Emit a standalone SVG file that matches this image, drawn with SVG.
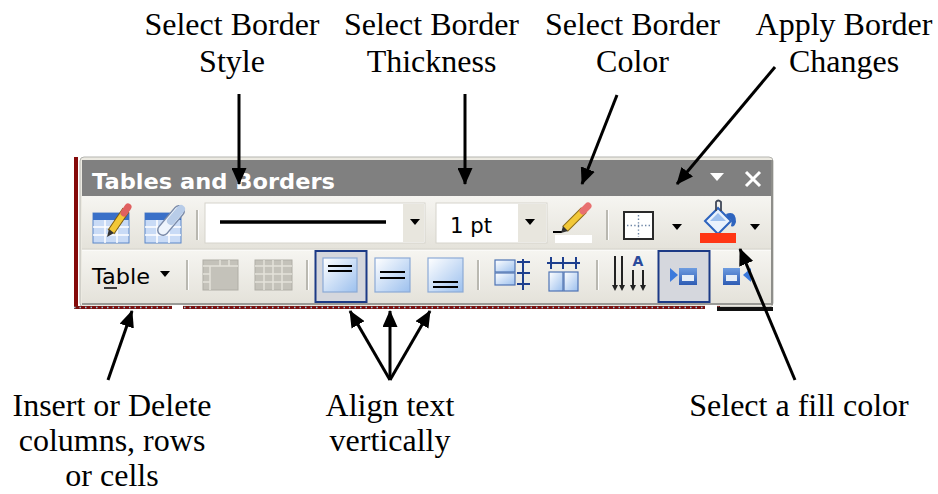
<svg xmlns="http://www.w3.org/2000/svg" width="938" height="494" viewBox="0 0 938 494">
<defs>
<style>
.lbl{font-family:"Liberation Serif","Times New Roman",serif;font-size:32px;fill:#000;text-anchor:middle}
.ui{font-family:"DejaVu Sans","Liberation Sans",sans-serif;fill:#000}
.con{stroke:#000;stroke-width:3;fill:none;marker-end:url(#ah)}
.sep{stroke:#A9A79F;stroke-width:1.5}
.sepw{stroke:#FFFFFF;stroke-width:1}
.drop{fill:#000}
.tick{stroke:#1E3F8E;stroke-width:2}
</style>
<marker id="ah" markerWidth="17" markerHeight="15" refX="16" refY="7.5" orient="auto" markerUnits="userSpaceOnUse">
<path d="M0,0 L17,7.5 L0,15 Z" fill="#000"/>
</marker>
<linearGradient id="row" x1="0" y1="0" x2="0" y2="1">
<stop offset="0" stop-color="#F6F5F1"/>
<stop offset="1" stop-color="#E4E2DA"/>
</linearGradient>
<linearGradient id="ico" x1="0" y1="0" x2="1" y2="1">
<stop offset="0" stop-color="#FFFFFF"/>
<stop offset="1" stop-color="#9CC0EE"/>
</linearGradient>
<linearGradient id="win" x1="0" y1="0" x2="0" y2="1">
<stop offset="0" stop-color="#6E9CE0"/>
<stop offset="1" stop-color="#2E5CB4"/>
</linearGradient>
</defs>

<!-- Toolbar -->
<g id="toolbar">
<rect x="74" y="157" width="4" height="152" fill="#850A0A"/>
<rect x="80" y="157" width="693" height="150" rx="4" fill="#ECEAE2" stroke="#B5B5B0" stroke-width="1"/>
<rect x="82" y="160" width="689" height="36" fill="#808080"/>
<rect x="82" y="196" width="689" height="54" fill="url(#row)"/>
<rect x="82" y="250" width="689" height="53" fill="url(#row)"/>
<line x1="82" y1="250" x2="771" y2="250" stroke="#FFFFFF" stroke-width="1"/>
<line x1="82" y1="249" x2="771" y2="249" stroke="#D6D4CC" stroke-width="1"/>
<line x1="82" y1="304" x2="772" y2="304" stroke="#9A9A96" stroke-width="2"/>
<line x1="772" y1="160" x2="772" y2="305" stroke="#8E8E8A" stroke-width="2"/>
<!-- bottom dotted line -->
<rect x="74" y="306" width="646" height="3" fill="#7A1212"/>
<line x1="74" y1="307.5" x2="720" y2="307.5" stroke="#9ED4E2" stroke-width="1.5" stroke-dasharray="1.5 4"/>
<rect x="172" y="305" width="11" height="5" fill="#FFFFFF"/>
<rect x="705" y="305" width="12" height="5" fill="#FFFFFF"/>
<rect x="717" y="307" width="56" height="4" fill="#111111"/>

<!-- title bar -->
<text x="92" y="189" class="ui" font-size="22" font-weight="bold" style="fill:#FFFFFF" textLength="243" lengthAdjust="spacingAndGlyphs">Tables and Borders</text>
<polygon points="710,173 724,173 717,181" fill="#FFFFFF"/>
<path d="M746,172 L760,186 M760,172 L746,186" stroke="#FFFFFF" stroke-width="3"/>

<!-- Row 1 -->
<g id="draw-table">
<rect x="93" y="213" width="36" height="30" fill="#C9DBF6" stroke="#5A86C8" stroke-width="1"/>
<rect x="93" y="213" width="36" height="7" fill="#3A70C8"/>
<path d="M93,227 H129 M93,235 H129 M105,220 V243 M117,220 V243" stroke="#FFFFFF" stroke-width="1.5"/>
<path d="M111,232 L126,210" stroke="#7A5A10" stroke-width="8" stroke-linecap="butt"/>
<path d="M111,232 L126,210" stroke="#F2C838" stroke-width="6"/>
<path d="M124,213 L128,207" stroke="#E06060" stroke-width="7" stroke-linecap="round"/>
<polygon points="107,237 109,229 114,233" fill="#333"/>
</g>
<g id="eraser-table">
<rect x="145" y="213" width="36" height="30" fill="#C9DBF6" stroke="#5A86C8" stroke-width="1"/>
<rect x="145" y="213" width="36" height="7" fill="#3A70C8"/>
<path d="M145,227 H181 M145,235 H181 M157,220 V243 M169,220 V243" stroke="#FFFFFF" stroke-width="1.5"/>
<path d="M163,230 L179,211" stroke="#7A8AA8" stroke-width="12" stroke-linecap="round"/>
<path d="M163,230 L179,211" stroke="#EEF4FC" stroke-width="9" stroke-linecap="round"/>
<path d="M171,221 L181,209" stroke="#B8CCE8" stroke-width="8" stroke-linecap="round"/>
</g>
<line x1="197" y1="210" x2="197" y2="240" class="sep"/>
<line x1="198.5" y1="210" x2="198.5" y2="240" class="sepw"/>

<g id="line-style">
<rect x="205" y="203" width="220" height="40" fill="#FFFFFF" stroke="#D6D4CC"/>
<line x1="220" y1="222" x2="386" y2="222" stroke="#000" stroke-width="3.5"/>
<rect x="403" y="204" width="21" height="38" fill="#E8E6DE"/>
<polygon points="410,219 420,219 415,225" class="drop"/>
</g>
<g id="line-weight">
<rect x="436" y="203" width="111" height="40" fill="#FFFFFF" stroke="#D6D4CC"/>
<text x="450" y="233" class="ui" font-size="21" textLength="42" lengthAdjust="spacingAndGlyphs">1 pt</text>
<rect x="518" y="204" width="28" height="38" fill="#E8E6DE"/>
<polygon points="525,219 535,219 530,225" class="drop"/>
</g>
<g id="border-color">
<line x1="553" y1="232" x2="562" y2="232" stroke="#000" stroke-width="2"/>
<path d="M565,229 L584,210" stroke="#8A6A18" stroke-width="8"/>
<path d="M565,229 L584,210" stroke="#F2C838" stroke-width="6"/>
<path d="M583,211 L588,206" stroke="#E87070" stroke-width="7" stroke-linecap="round"/>
<polygon points="561,233 563,226 568,231" fill="#333"/>
<rect x="555" y="235" width="37" height="8" fill="#FFFFFF"/>
</g>
<line x1="607" y1="210" x2="607" y2="240" class="sep"/>
<line x1="608.5" y1="210" x2="608.5" y2="240" class="sepw"/>
<g id="borders">
<rect x="624" y="212" width="29" height="27" fill="#FFFFFF" stroke="#2A2A2A" stroke-width="2"/>
<path d="M638.5,215 V237 M627,225.5 H651" stroke="#6E86A6" stroke-width="1.4" stroke-dasharray="1.4 2.2"/>
<polygon points="672,224 682,224 677,230" class="drop"/>
</g>
<g id="shading">
<path d="M705,221 L718,208 L731,221 L718,234 Z" fill="#EAF2FC" stroke="#2E64BE" stroke-width="2"/>
<path d="M710,221 L718,213 L726,221 Z" fill="#9EC0EE"/>
<path d="M716,211 V202 Q718,199 721,202 V211" fill="none" stroke="#404858" stroke-width="1.8"/>
<path d="M726,214 Q736,210 736,222 Q734,228 731,226 Q733,219 728,218 Z" fill="#2E64BE"/>
<rect x="700" y="233" width="36" height="10" fill="#FF3614"/>
<polygon points="750,224 760,224 755,230" class="drop"/>
</g>

<!-- Row 2 -->
<g id="table-menu">
<text x="92" y="284" class="ui" font-size="21" textLength="58" lengthAdjust="spacingAndGlyphs">Table</text>
<line x1="104" y1="288" x2="117" y2="288" stroke="#000" stroke-width="1.5"/>
<polygon points="160,271 170,271 165,277" class="drop"/>
</g>
<line x1="187" y1="260" x2="187" y2="290" class="sep"/>
<line x1="188.5" y1="260" x2="188.5" y2="290" class="sepw"/>
<g id="insert-table">
<rect x="203" y="260" width="35" height="30" fill="#C4C2BA" stroke="#B0AEA6"/>
<path d="M203,266 H238 M210,266 V290 M220,260 V266 M229,260 V266 M203,274 H210 M203,282 H210" stroke="#E4E2DA" stroke-width="1.5"/>
</g>
<g id="merge-cells">
<rect x="255" y="260" width="37" height="30" fill="#C4C2BA" stroke="#B0AEA6"/>
<path d="M255,266 H292 M255,274 H292 M255,282 H292 M264,260 V290 M273,260 V290 M282,260 V290" stroke="#E4E2DA" stroke-width="1.5"/>
</g>
<line x1="307" y1="260" x2="307" y2="290" class="sep"/>
<line x1="308.5" y1="260" x2="308.5" y2="290" class="sepw"/>
<g id="align-top">
<rect x="315.5" y="251" width="51" height="51" fill="#D5D7DD" stroke="#1C3A86" stroke-width="2"/>
<rect x="323" y="258" width="34" height="34" fill="url(#ico)" stroke="#8CAAD6" stroke-width="1.2"/>
<path d="M328,266 H352 M328,271 H352" stroke="#000" stroke-width="2"/>
</g>
<g id="align-center">
<rect x="375" y="258" width="35" height="34" fill="url(#ico)" stroke="#8CAAD6" stroke-width="1.2"/>
<path d="M380,272 H405 M380,278 H405" stroke="#000" stroke-width="2"/>
</g>
<g id="align-bottom">
<rect x="428" y="258" width="35" height="34" fill="url(#ico)" stroke="#8CAAD6" stroke-width="1.2"/>
<path d="M433,282 H458 M433,287 H458" stroke="#000" stroke-width="2"/>
</g>
<line x1="478" y1="260" x2="478" y2="290" class="sep"/>
<line x1="479.5" y1="260" x2="479.5" y2="290" class="sepw"/>
<g id="distribute-rows">
<rect x="495" y="260" width="20" height="12" fill="url(#ico)" stroke="#4F74B4" stroke-width="1.2"/>
<rect x="495" y="273" width="20" height="12" fill="url(#ico)" stroke="#4F74B4" stroke-width="1.2"/>
<path d="M523,259 V290 M517,262 H530 M517,273 H530 M517,284 H530" class="tick"/>
</g>
<g id="distribute-cols">
<path d="M547,263 H580 M551,257 V269 M563,257 V269 M576,257 V269" class="tick"/>
<rect x="549" y="272" width="14" height="19" fill="url(#ico)" stroke="#4F74B4" stroke-width="1.2"/>
<rect x="564" y="272" width="14" height="19" fill="url(#ico)" stroke="#4F74B4" stroke-width="1.2"/>
</g>
<line x1="597" y1="260" x2="597" y2="290" class="sep"/>
<line x1="598.5" y1="260" x2="598.5" y2="290" class="sepw"/>
<g id="text-direction">
<path d="M615,256 V287 M622,256 V287 M633,270 V287 M643,270 V287" stroke="#222" stroke-width="2"/>
<path d="M612,285 L615,291 L618,285 Z M619,285 L622,291 L625,285 Z M630,285 L633,291 L636,285 Z M640,285 L643,291 L646,285 Z" fill="#222"/>
<text x="638" y="266" class="ui" font-size="14" font-weight="bold" text-anchor="middle" style="fill:#2A4A9A">A</text>
</g>
<g id="autofit">
<rect x="658.5" y="251" width="51" height="51" fill="#D5D7DD" stroke="#1C3A86" stroke-width="2"/>
<polygon points="670,268 678,275 670,282" fill="#3C7ADC"/>
<rect x="679" y="268" width="18" height="17" fill="url(#win)"/>
<rect x="682" y="275" width="12" height="6" fill="#E6EEF8"/>
</g>
<g id="autofit2">
<rect x="723" y="268" width="17" height="17" fill="url(#win)"/>
<rect x="726" y="275" width="11" height="6" fill="#E6EEF8"/>
<polygon points="751,268 743,275 751,282" fill="#3C7ADC"/>
</g>
</g>

<!-- Labels -->
<g id="lbl-style">
<text x="232" y="35" class="lbl">Select Border</text>
<text x="232" y="72" class="lbl">Style</text>
</g>
<g id="lbl-thickness">
<text x="431.5" y="35" class="lbl">Select Border</text>
<text x="431.5" y="72" class="lbl">Thickness</text>
</g>
<g id="lbl-color">
<text x="632.5" y="35" class="lbl">Select Border</text>
<text x="632.5" y="72" class="lbl">Color</text>
</g>
<g id="lbl-apply">
<text x="844" y="35" class="lbl">Apply Border</text>
<text x="844" y="72" class="lbl">Changes</text>
</g>
<g id="lbl-insert">
<text x="112" y="416" class="lbl">Insert or Delete</text>
<text x="112" y="451" class="lbl">columns, rows</text>
<text x="112" y="486" class="lbl">or cells</text>
</g>
<g id="lbl-align">
<text x="390" y="416" class="lbl">Align text</text>
<text x="390" y="451" class="lbl">vertically</text>
</g>
<g id="lbl-fill">
<text x="799" y="416" class="lbl">Select a fill color</text>
</g>

<!-- Connectors -->
<g id="connectors">
<line x1="239" y1="94" x2="239" y2="184" class="con"/>
<line x1="465" y1="94" x2="465" y2="184" class="con"/>
<line x1="617" y1="95" x2="582" y2="184" class="con"/>
<line x1="775" y1="67" x2="677" y2="184" class="con"/>
<line x1="108" y1="380" x2="132" y2="311" class="con"/>
<line x1="390" y1="380" x2="350" y2="311" class="con"/>
<line x1="390" y1="380" x2="390" y2="311" class="con"/>
<line x1="390" y1="380" x2="430" y2="311" class="con"/>
<line x1="795" y1="380" x2="740" y2="249" class="con"/>
</g>
</svg>
